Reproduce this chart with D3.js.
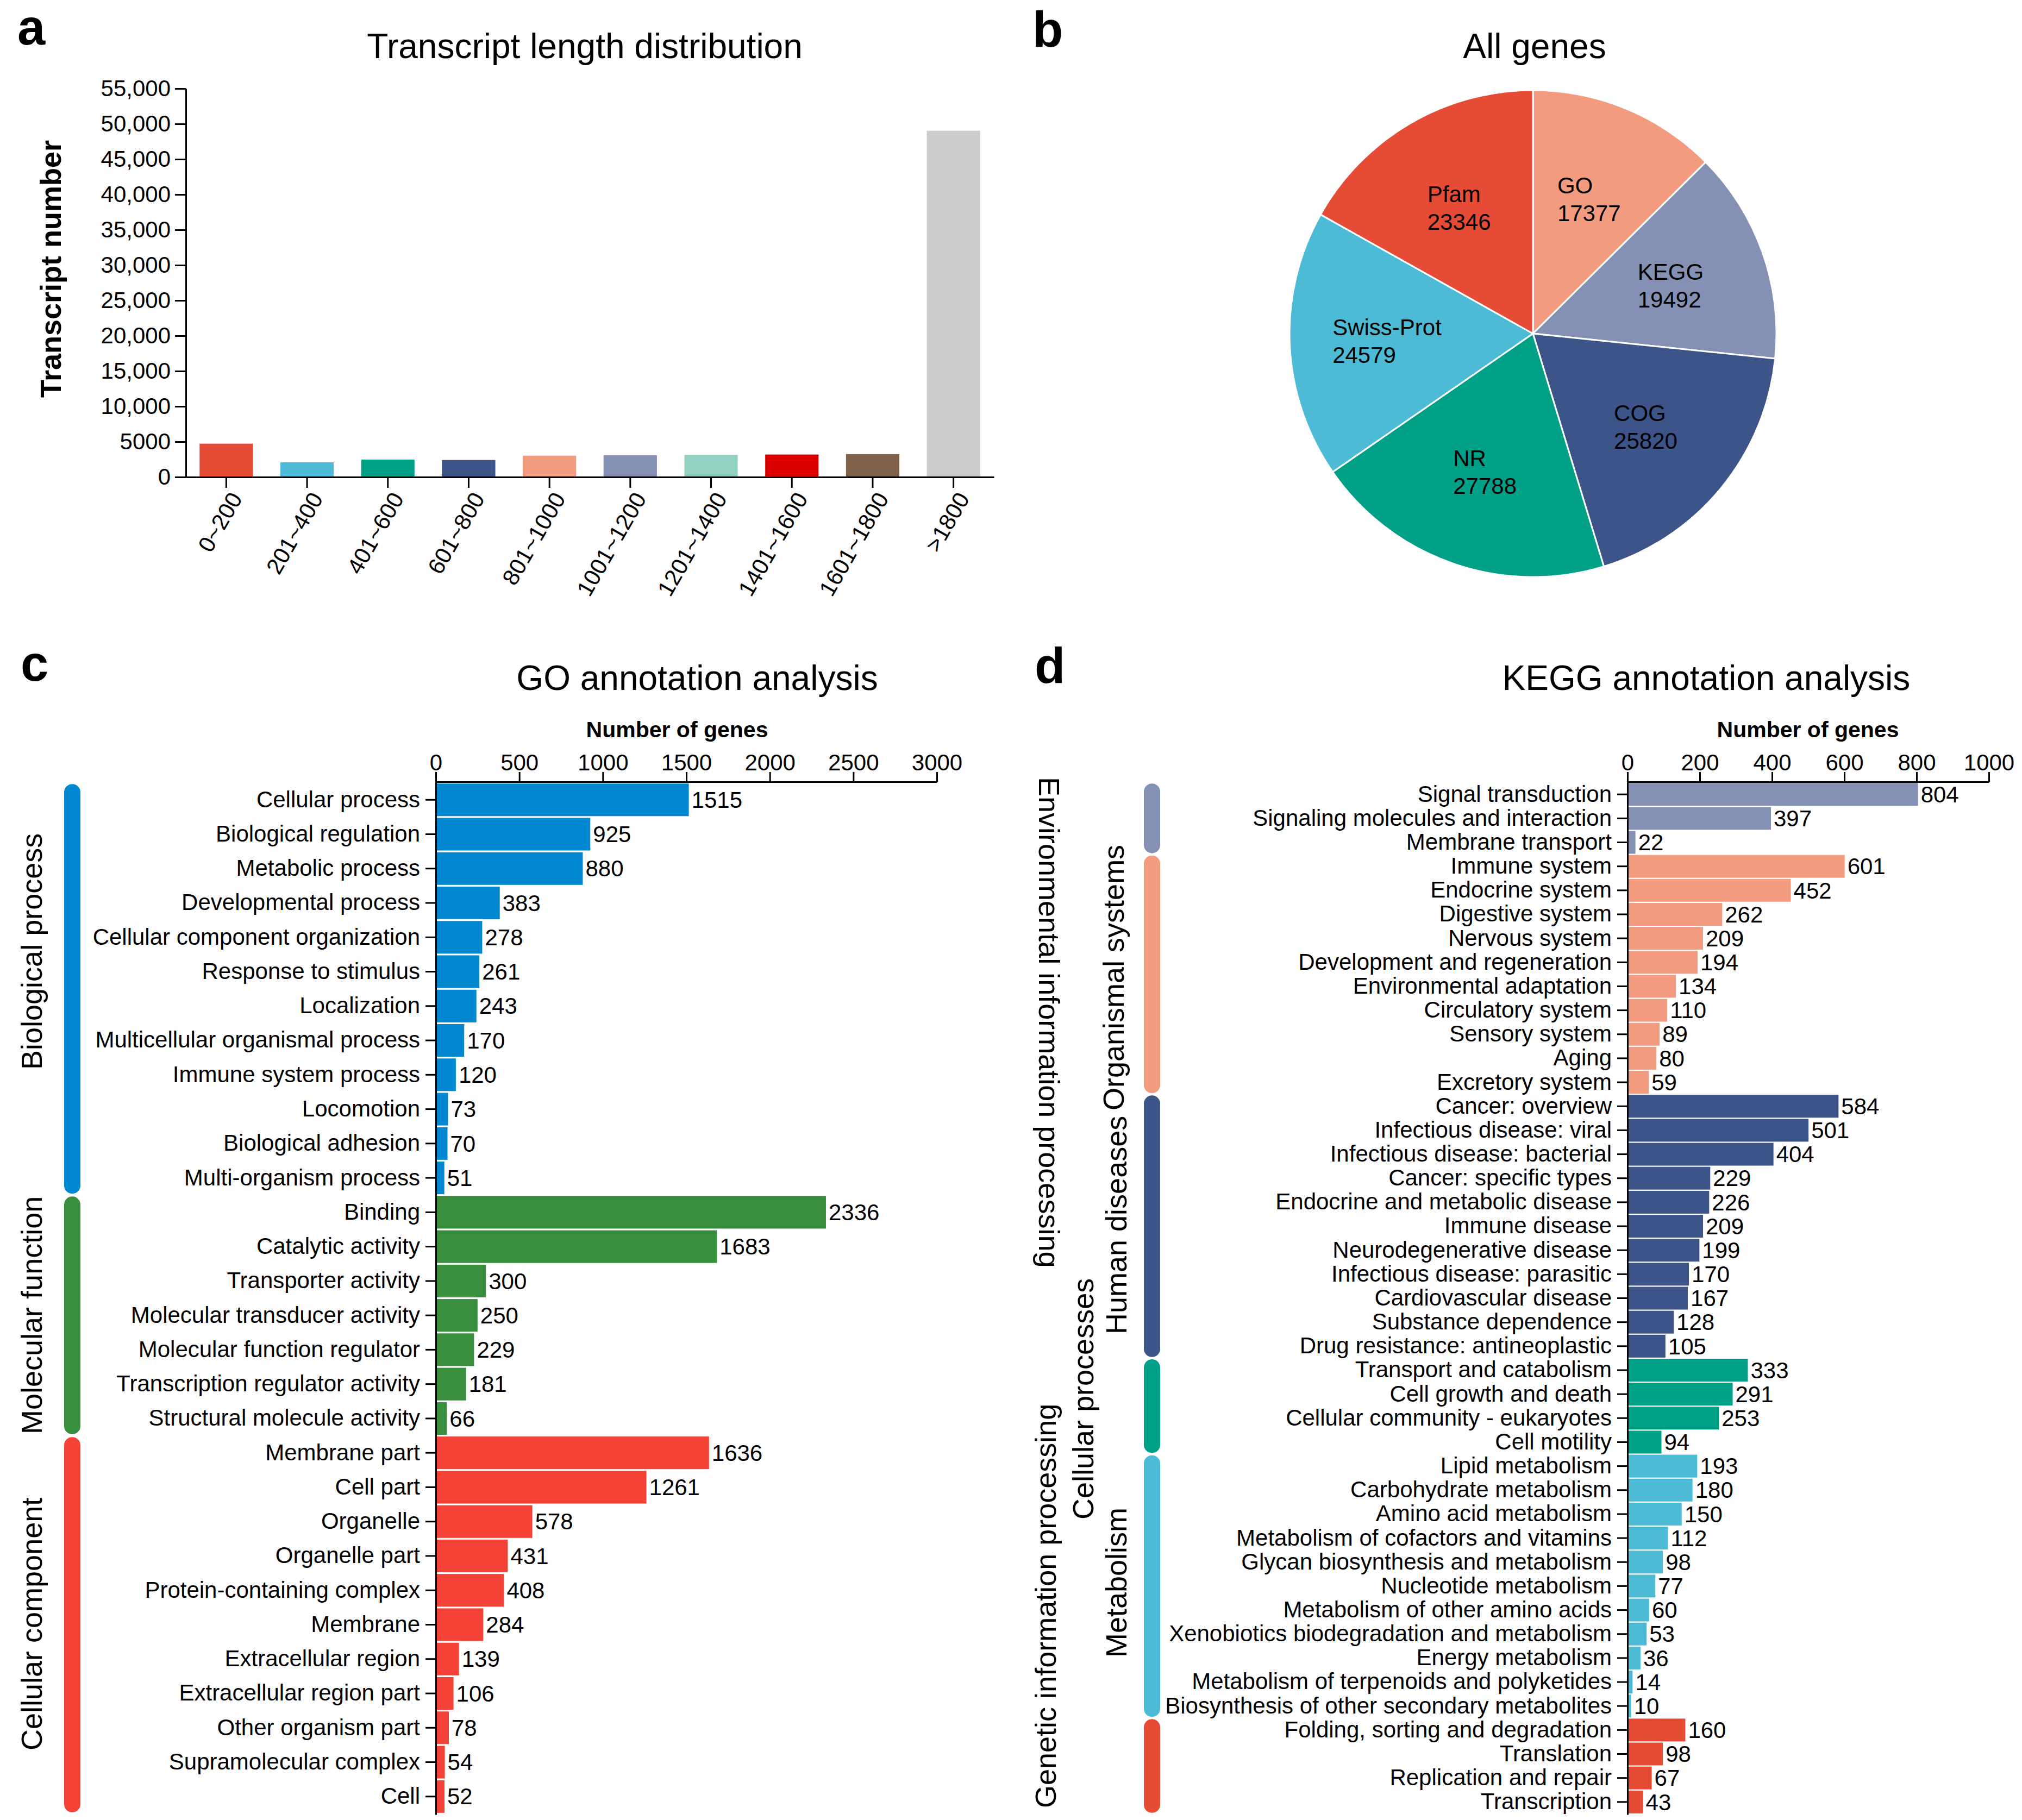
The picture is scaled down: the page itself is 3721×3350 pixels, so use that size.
<!DOCTYPE html>
<html>
<head>
<meta charset="utf-8">
<script src="https://cdn.jsdelivr.net/npm/d3@7"></script>
<style>
body { margin: 0; background: #fff; }
</style>
</head>
<body>
<script>
// ---- data ----
var lenBins = ["0~200", "201~400", "401~600", "601~800", "801~1000", "1001~1200", "1201~1400", "1401~1600", "1601~1800", ">1800"]
var lenCounts = [4720, 2080, 2470, 2410, 3020, 3070, 3130, 3180, 3240, 49030]
var lenColors = ["#E64B35", "#4DBBD5", "#00A087", "#3C5488", "#F39B7F", "#8491B4", "#91D1C2", "#DC0000", "#7E6148", "#CCCCCC"]
var lenTicks = [0, 5000, 10000, 15000, 20000, 25000, 30000, 35000, 40000, 45000, 50000, 55000]
var lenTickLabels = ["0", "5000", "10,000", "15,000", "20,000", "25,000", "30,000", "35,000", "40,000", "45,000", "50,000", "55,000"]

var pieNames = ["GO", "KEGG", "COG", "NR", "Swiss-Prot", "Pfam"]
var pieValues = [17377, 19492, 25820, 27788, 24579, 23346]
var pieColors = ["#F39B7F", "#8491B4", "#3C5488", "#00A087", "#4DBBD5", "#E64B35"]

var goGroups = ["Biological process", "Molecular function", "Cellular component"]
var goGroupSizes = [12, 7, 11]
var goColors = ["#0288D1", "#388E3C", "#F44336"]
var goTerms = ["Cellular process", "Biological regulation", "Metabolic process", "Developmental process",
  "Cellular component organization", "Response to stimulus", "Localization", "Multicellular organismal process",
  "Immune system process", "Locomotion", "Biological adhesion", "Multi-organism process",
  "Binding", "Catalytic activity", "Transporter activity", "Molecular transducer activity",
  "Molecular function regulator", "Transcription regulator activity", "Structural molecule activity",
  "Membrane part", "Cell part", "Organelle", "Organelle part", "Protein-containing complex", "Membrane",
  "Extracellular region", "Extracellular region part", "Other organism part", "Supramolecular complex", "Cell"]
var goCounts = [1515, 925, 880, 383, 278, 261, 243, 170, 120, 73, 70, 51,
  2336, 1683, 300, 250, 229, 181, 66,
  1636, 1261, 578, 431, 408, 284, 139, 106, 78, 54, 52]
var goTicks = [0, 500, 1000, 1500, 2000, 2500, 3000]

var keggGroups = ["Environmental information processing", "Organismal systems", "Human diseases",
  "Cellular processes", "Metabolism", "Genetic information processing"]
var keggGroupSizes = [3, 10, 11, 4, 11, 4]
var keggColors = ["#8491B4", "#F39B7F", "#3C5488", "#00A087", "#4DBBD5", "#E64B35"]
var keggTerms = ["Signal transduction", "Signaling molecules and interaction", "Membrane transport",
  "Immune system", "Endocrine system", "Digestive system", "Nervous system", "Development and regeneration",
  "Environmental adaptation", "Circulatory system", "Sensory system", "Aging", "Excretory system",
  "Cancer: overview", "Infectious disease: viral", "Infectious disease: bacterial", "Cancer: specific types",
  "Endocrine and metabolic disease", "Immune disease", "Neurodegenerative disease", "Infectious disease: parasitic",
  "Cardiovascular disease", "Substance dependence", "Drug resistance: antineoplastic",
  "Transport and catabolism", "Cell growth and death", "Cellular community - eukaryotes", "Cell motility",
  "Lipid metabolism", "Carbohydrate metabolism", "Amino acid metabolism", "Metabolism of cofactors and vitamins",
  "Glycan biosynthesis and metabolism", "Nucleotide metabolism", "Metabolism of other amino acids",
  "Xenobiotics biodegradation and metabolism", "Energy metabolism", "Metabolism of terpenoids and polyketides",
  "Biosynthesis of other secondary metabolites",
  "Folding, sorting and degradation", "Translation", "Replication and repair", "Transcription"]
var keggCounts = [804, 397, 22,
  601, 452, 262, 209, 194, 134, 110, 89, 80, 59,
  584, 501, 404, 229, 226, 209, 199, 170, 167, 128, 105,
  333, 291, 253, 94,
  193, 180, 150, 112, 98, 77, 60, 53, 36, 14, 10,
  160, 98, 67, 43]
var keggTicks = [0, 200, 400, 600, 800, 1000]

// ---- setup ----
var FONT = "'Liberation Sans', Arial, Helvetica, sans-serif"
var W = 3721, H = 3350
var svg = d3.select('body').append('svg')
  .attr('width', W)
  .attr('height', H)
  .attr('font-family', FONT)

function styleAxis(g) {
  g.attr('font-size', 42).attr('font-family', FONT)
  g.selectAll('path, line').attr('stroke', '#000').attr('stroke-width', 3)
  g.selectAll('text').attr('fill', '#000')
}

function panelLetter(t, x, y) {
  svg.append('text').attr('x', x).attr('y', y)
    .attr('font-size', 92).attr('font-weight', 'bold').text(t)
}

function title(t, x, y) {
  svg.append('text').attr('x', x).attr('y', y)
    .attr('text-anchor', 'middle').attr('font-size', 64).text(t)
}

// ---- panel a ----
panelLetter('a', 32, 82)
title('Transcript length distribution', 1076, 107)

var ax = d3.scaleBand().domain(lenBins).range([342, 1829]).paddingInner(0.34).paddingOuter(0.17)
var ay = d3.scaleLinear().domain([0, 55000]).range([878, 163])

svg.append('g').selectAll('rect')
  .data(lenBins)
  .enter()
  .append('rect')
  .attr('x', function (d) { return ax(d) })
  .attr('y', function (d, i) { return ay(lenCounts[i]) })
  .attr('width', ax.bandwidth())
  .attr('height', function (d, i) { return ay(0) - ay(lenCounts[i]) })
  .attr('fill', function (d, i) { return lenColors[i] })

svg.append('g')
  .attr('transform', 'translate(342,0)')
  .call(d3.axisLeft(ay).tickValues(lenTicks)
    .tickFormat(function (d, i) { return lenTickLabels[i] })
    .tickSize(20).tickPadding(8).tickSizeOuter(0))
  .call(styleAxis)

var axB = svg.append('g')
  .attr('transform', 'translate(0,878)')
  .call(d3.axisBottom(ax).tickSize(20).tickSizeOuter(0))
  .call(styleAxis)
// rotated category labels
axB.selectAll('text')
  .attr('x', 0).attr('y', 0).attr('dy', '0.35em')
  .attr('text-anchor', 'end')
  .attr('transform', 'translate(18,32) rotate(-60)')

svg.append('text')
  .attr('transform', 'translate(112,495) rotate(-90)')
  .attr('text-anchor', 'middle')
  .attr('font-size', 54).attr('font-weight', 'bold')
  .text('Transcript number')

// ---- panel b ----
panelLetter('b', 1900, 86)
title('All genes', 2824, 107)

var pcx = 2821, pcy = 614, pr = 448
var pie = d3.pie().sort(null)(pieValues)
var arc = d3.arc().innerRadius(0).outerRadius(pr)
var labelArc = d3.arc().innerRadius(pr * 0.6).outerRadius(pr * 0.6)
var pg = svg.append('g').attr('transform', 'translate(' + pcx + ',' + pcy + ')')
pg.selectAll('path')
  .data(pie)
  .enter()
  .append('path')
  .attr('d', arc)
  .attr('fill', function (d, i) { return pieColors[i] })
  .attr('stroke', '#fff')
  .attr('stroke-width', 3)

// two-line labels, left aligned, block centred on the centroid
pie.forEach(function (d, i) {
  var c = labelArc.centroid(d)
  var t = pg.append('text').attr('font-size', 42)
  var l1 = t.append('tspan').attr('y', c[1] - 10).text(pieNames[i])
  var l2 = t.append('tspan').attr('y', c[1] + 41).text(pieValues[i])
  var w = Math.max(l1.node().getComputedTextLength(), l2.node().getComputedTextLength())
  l1.attr('x', c[0] - w / 2)
  l2.attr('x', c[0] - w / 2)
})

// ---- panels c and d ----
function drawAnnot(o) {
  var g = svg.append('g')
  var x = d3.scaleLinear().domain([0, o.max]).range(o.xr)
  var y = d3.scaleBand().domain(o.terms).range(o.yr).paddingInner(0.05).paddingOuter(0.05)
  var grp = []
  o.sizes.forEach(function (n, gi) { for (var k = 0; k < n; k++) grp.push(gi) })

  g.selectAll('rect.bar')
    .data(o.terms)
    .enter()
    .append('rect')
    .attr('class', 'bar')
    .attr('x', x(0))
    .attr('y', function (d) { return y(d) })
    .attr('width', function (d, i) { return x(o.counts[i]) - x(0) })
    .attr('height', y.bandwidth())
    .attr('fill', function (d, i) { return o.colors[grp[i]] })

  g.selectAll('text.val')
    .data(o.terms)
    .enter()
    .append('text')
    .attr('class', 'val')
    .attr('x', function (d, i) { return x(o.counts[i]) + 5 })
    .attr('y', function (d) { return y(d) + y.bandwidth() / 2 })
    .attr('dy', '0.35em')
    .attr('font-size', 42)
    .text(function (d, i) { return o.counts[i] })

  g.append('g')
    .attr('transform', 'translate(0,' + o.yr[0] + ')')
    .call(d3.axisTop(x).tickValues(o.ticks).tickFormat(d3.format('d'))
      .tickSize(18).tickPadding(3).tickSizeOuter(0))
    .call(styleAxis)

  g.append('g')
    .attr('transform', 'translate(' + o.xr[0] + ',0)')
    .call(d3.axisLeft(y).tickSize(19).tickPadding(10).tickSizeOuter(0))
    .call(styleAxis)

  g.append('text')
    .attr('x', o.axisTitleX).attr('y', 1357)
    .attr('text-anchor', 'middle')
    .attr('font-size', 41).attr('font-weight', 'bold')
    .text('Number of genes')

  // group bars
  var start = 0
  o.sizes.forEach(function (n, gi) {
    var y0 = y(o.terms[start]) + 1
    var y1 = y(o.terms[start + n - 1]) + y.bandwidth() - 1
    g.append('rect')
      .attr('x', o.gx).attr('y', y0)
      .attr('width', 30).attr('height', y1 - y0)
      .attr('rx', 15).attr('ry', 15)
      .attr('fill', o.colors[gi])
    start += n
  })

  // group labels
  o.groups.forEach(function (name, gi) {
    var p = o.labelPos[gi]
    g.append('text')
      .attr('transform', 'translate(' + p[0] + ',' + p[1] + ') rotate(' + p[2] + ')')
      .attr('font-size', 54)
      .text(name)
  })
}

panelLetter('c', 38, 1253)
title('GO annotation analysis', 1283, 1270)
drawAnnot({
  terms: goTerms, counts: goCounts, sizes: goGroupSizes, colors: goColors, groups: goGroups,
  max: 3000, ticks: goTicks, xr: [802, 1724], yr: [1439, 3340], gx: 118, axisTitleX: 1246,
  labelPos: [[77, 1969, -90], [77, 2640, -90], [77, 3222, -90]]
})

panelLetter('d', 1904, 1257)
title('KEGG annotation analysis', 3140, 1270)
drawAnnot({
  terms: keggTerms, counts: keggCounts, sizes: keggGroupSizes, colors: keggColors, groups: keggGroups,
  max: 1000, ticks: keggTicks, xr: [2995, 3660], yr: [1439, 3340], gx: 2105, axisTitleX: 3327,
  labelPos: [[1912, 1430, 90], [2068, 2044, -90], [2073, 2456, -90], [2012, 2797, -90], [2073, 3051, -90], [1943, 3328, -90]]
})
</script>
</body>
</html>
